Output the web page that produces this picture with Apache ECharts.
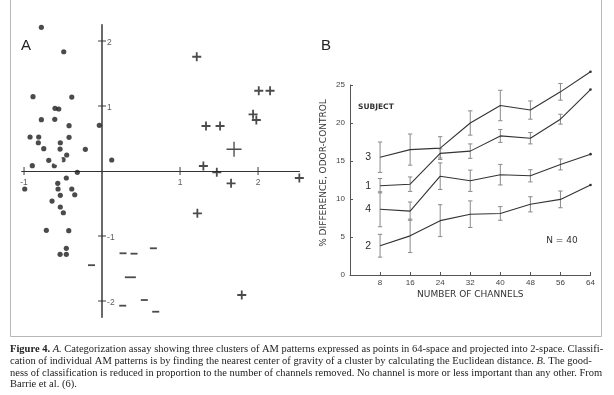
<!DOCTYPE html>
<html><head><meta charset="utf-8">
<script src="https://cdn.jsdelivr.net/npm/echarts@6/dist/echarts.min.js"></script>
<style>html,body{margin:0;padding:0;background:#fff}#c{width:614px;height:395px}</style>
</head><body><div id="c"></div>
<script>
// ---------- Panel A: AM patterns projected into 2-space ----------
const dotsA = [
  [-0.778,2.211],[-0.491,1.835],[-0.885,1.143],[-0.388,1.138],[-0.603,0.965],[-0.555,0.954],
  [-0.778,0.789],[-0.606,0.795],[-0.423,0.697],[-0.035,0.703],[-0.923,0.523],[-0.812,0.523],
  [-0.423,0.518],[-0.817,0.435],[-0.535,0.435],[-0.747,0.343],[-0.538,0.338],[-0.214,0.334],
  [-0.453,0.246],[-0.683,0.165],[-0.500,0.174],[-0.894,0.082],[-0.612,0.082],[-0.317,-0.020],
  [-0.458,-0.108],[-0.568,-0.189],[-0.991,-0.277],[-0.564,-0.277],[-0.388,-0.277],[-0.535,-0.374],
  [-0.350,-0.365],[-0.641,-0.462],[-0.535,-0.554],[-0.496,-0.642],[-0.714,-0.912],[-0.427,-0.918],
  [-0.458,-1.189],[-0.538,-1.282],[-0.458,-1.282],[0.124,0.169]
];
const plusA = [
  [1.214,1.758],[2.009,1.235],[2.154,1.235],[1.936,0.872],[1.978,0.785],[1.333,0.692],
  [1.513,0.692],[1.299,0.077],[1.471,-0.020],[1.654,-0.189],[2.529,-0.108],[1.222,-0.651],
  [1.791,-1.908]
];
const dashA = [
  [0.658,-1.189],[0.269,-1.266],[0.410,-1.272],[0.542,-1.985],[0.265,-2.072],[0.688,-2.165],
  [-0.135,-1.449]
];
const dotCentroid = [[-0.573,0.165]];
const plusCentroid = [[1.692,0.334]];
const dashCentroid = [[0.363,-1.635]];
const xTicksA = [-1,1,2];
const yTicksA = [-2,-1,1,2];

// ---------- Panel B: % difference vs number of channels ----------
const channels = [8,16,24,32,40,48,56,64];
const subj3 = [15.5,16.5,16.7,20.0,22.3,21.7,24.1,26.75];
const err3  = [2.0,2.05,1.5,1.6,2.0,1.2,1.1,0];
const subj1 = [11.75,11.95,16.0,16.3,18.3,18.0,20.5,24.4];
const err1  = [0.95,0.95,0.6,0.95,0.85,0.75,0.65,0];
const subj4 = [8.65,8.4,13.0,12.4,13.2,13.05,14.55,15.9];
const err4  = [2.3,1.2,1.75,1.4,1.35,0.8,0.72,0];
const subj2 = [3.85,5.15,7.15,8.0,8.1,9.3,9.95,11.85];
const err2  = [1.5,2.2,2.1,1.75,0.9,1.0,1.1,0];
const subjectNames = ['3','1','4','2'];

const INK = '#1e1e1e';
const chart = echarts.init(document.getElementById('c'), null, {renderer:'canvas'});

const plusPath = 'path://M4,0h2v4h4v2h-4v4h-2v-4h-4v-2h4z';
const bigPlusPath = 'path://M9.1,0h1.8v9.1h9.1v1.8h-9.1v9.1h-1.8v-9.1h-9.1v-1.8h9.1z';
const tickLabelStyle = {fontFamily:'Liberation Sans', fontSize:8.5, color:'#333'};

const groupsB = [[subj3,err3],[subj1,err1],[subj4,err4],[subj2,err2]];
const seriesB = [];
groupsB.forEach(([vals,errs],gi)=>{
  const last = vals.length-1;
  seriesB.push({
    type:'line', xAxisIndex:1, yAxisIndex:1, silent:true, clip:false,
    data: vals.map((v,i)=>{
      const item = {value:[channels[i],v]};
      if(i===0) item.label = {show:true, position:'left', distance:9, formatter:subjectNames[gi],
        fontFamily:'Liberation Sans', fontSize:10.5, color:'#2a2a2a'};
      return item;
    }),
    symbol:'circle',
    symbolSize:(val,p)=> p.dataIndex===last ? 2.6 : 0,
    itemStyle:{color:'#333'},
    lineStyle:{color:'#333', width:1.1},
    animation:false, z:3
  });
  seriesB.push({
    type:'custom', xAxisIndex:1, yAxisIndex:1, silent:true, clip:false,
    data: vals.map((v,i)=>[channels[i], v-errs[i], v+errs[i]]).filter(d=>d[2]>d[1]),
    renderItem:(params, api)=>{
      const x = api.value(0);
      const lo = api.coord([x, api.value(1)]);
      const hi = api.coord([x, api.value(2)]);
      const st = {stroke:'#8a8a8a', lineWidth:1};
      return {type:'group', children:[
        {type:'line', shape:{x1:hi[0],y1:hi[1],x2:lo[0],y2:lo[1]}, style:st},
        {type:'line', shape:{x1:hi[0]-2.2,y1:hi[1],x2:hi[0]+2.2,y2:hi[1]}, style:st},
        {type:'line', shape:{x1:lo[0]-2.2,y1:lo[1],x2:lo[0]+2.2,y2:lo[1]}, style:st}
      ]};
    },
    animation:false, z:2
  });
});

const option = {
  animation:false,
  backgroundColor:'#fff',
  grid:[
    {left:21.7, top:24.75, width:277.7, height:292.5},
    {left:350, top:85, width:240.5, height:190}
  ],
  xAxis:[
    {gridIndex:0, type:'value', min:-1.03, max:2.53,
     axisLine:{onZero:true, lineStyle:{color:'#333', width:1.2}},
     axisTick:{show:false}, splitLine:{show:false}, axisLabel:{show:false}},
    {gridIndex:1, type:'value', min:0, max:64, interval:8,
     axisLine:{lineStyle:{color:'#555', width:1}},
     axisTick:{inside:true, length:3, lineStyle:{color:'#555'}},
     splitLine:{show:false},
     axisLabel:{margin:4, fontSize:8, color:'#444', fontFamily:'Liberation Sans',
       formatter:v=> v===0 ? '' : String(v)},
     name:'NUMBER OF CHANNELS', nameLocation:'middle', nameGap:15,
     nameTextStyle:{fontFamily:'DejaVu Sans', fontSize:9, color:'#333'}}
  ],
  yAxis:[
    {gridIndex:0, type:'value', min:-2.25, max:2.25,
     axisLine:{onZero:true, lineStyle:{color:'#444', width:1.6}},
     axisTick:{show:false}, splitLine:{show:false}, axisLabel:{show:false}},
    {gridIndex:1, type:'value', min:0, max:25, interval:5,
     axisLine:{lineStyle:{color:'#555', width:1}},
     axisTick:{inside:true, length:3, lineStyle:{color:'#555'}},
     splitLine:{show:false},
     axisLabel:{margin:5, fontSize:8, color:'#444', fontFamily:'Liberation Sans'}}
  ],
  series:[
    {type:'scatter', xAxisIndex:0, yAxisIndex:0, data:dotsA, symbol:'circle', symbolSize:5.2,
     itemStyle:{color:INK}, silent:true},
    {type:'scatter', xAxisIndex:0, yAxisIndex:0, data:plusA, symbol:plusPath, symbolSize:9,
     itemStyle:{color:INK}, silent:true, clip:false},
    {type:'scatter', xAxisIndex:0, yAxisIndex:0, data:dashA, symbol:'rect', symbolSize:[7,1.8],
     itemStyle:{color:INK}, silent:true},
    {type:'scatter', xAxisIndex:0, yAxisIndex:0, data:dotCentroid, symbol:'emptyCircle', symbolSize:8,
     itemStyle:{color:'#fff', borderColor:INK, borderWidth:1.3}, silent:true},
    {type:'scatter', xAxisIndex:0, yAxisIndex:0, data:plusCentroid, symbol:bigPlusPath, symbolSize:15,
     itemStyle:{color:INK}, silent:true},
    {type:'scatter', xAxisIndex:0, yAxisIndex:0, data:dashCentroid, symbol:'rect', symbolSize:[11,1.8],
     itemStyle:{color:INK}, silent:true},
    {type:'scatter', xAxisIndex:0, yAxisIndex:0, data:xTicksA.map(v=>[v,0]), symbol:'rect', symbolSize:[1.2,8],
     itemStyle:{color:'#333'}, silent:true,
     label:{show:true, position:'bottom', distance:3, formatter:p=>String(p.value[0]), ...tickLabelStyle}},
    {type:'scatter', xAxisIndex:0, yAxisIndex:0, data:yTicksA.map(v=>[0,v]), symbol:'rect', symbolSize:[8,1.2],
     itemStyle:{color:'#333'}, silent:true,
     label:{show:true, position:'right', distance:1, offset:[0,2], formatter:p=>String(p.value[1]), ...tickLabelStyle}},
    ...seriesB
  ],
  graphic:[
    {type:'polyline', shape:{points:[[10.5,0],[10.5,336.5],[601.5,336.5],[601.5,0]]},
     style:{stroke:'#b8b8b8', lineWidth:1, fill:null}, silent:true},
    {type:'text', left:21, top:38, style:{text:'A', font:'15px "Liberation Sans"', fill:'#222'}},
    {type:'text', left:321, top:38, style:{text:'B', font:'15px "Liberation Sans"', fill:'#222'}},
    {type:'text', x:358, y:107, style:{text:'SUBJECT', font:'bold 7.5px "DejaVu Sans"', fill:'#333',
      verticalAlign:'middle'}},
    {type:'text', x:562, y:241, style:{text:'N = 40', font:'9px "DejaVu Sans"', fill:'#333',
      align:'center', verticalAlign:'middle'}},
    {type:'text', x:324, y:173, rotation:Math.PI/2,
     style:{text:'% DIFFERENCE, ODOR-CONTROL', font:'9px "DejaVu Sans"', fill:'#333',
      align:'center', verticalAlign:'middle'}},
    {type:'text', x:10, y:343,
     style:{
       text:'{b|Figure 4.} {i|A.} Categorization assay showing three clusters of AM patterns expressed as points in 64-space and projected into 2-space. Classifi-\n' +
            'cation of individual AM patterns is by finding the nearest center of gravity of a cluster by calculating the Euclidean distance. {i|B.} The good-\n' +
            'ness of classification is reduced in proportion to the number of channels removed. No channel is more or less important than any other. From\n' +
            'Barrie et al. (6).',
       font:'10.5px "Liberation Serif"', fill:'#222', lineHeight:11.9,
       rich:{
         b:{fontWeight:'bold', fontFamily:'Liberation Serif', fontSize:10.5, fill:'#222', lineHeight:11.9},
         i:{fontStyle:'italic', fontFamily:'Liberation Serif', fontSize:10.5, fill:'#222', lineHeight:11.9}
       }
     }}
  ]
};
chart.setOption(option);
</script>
</body></html>
